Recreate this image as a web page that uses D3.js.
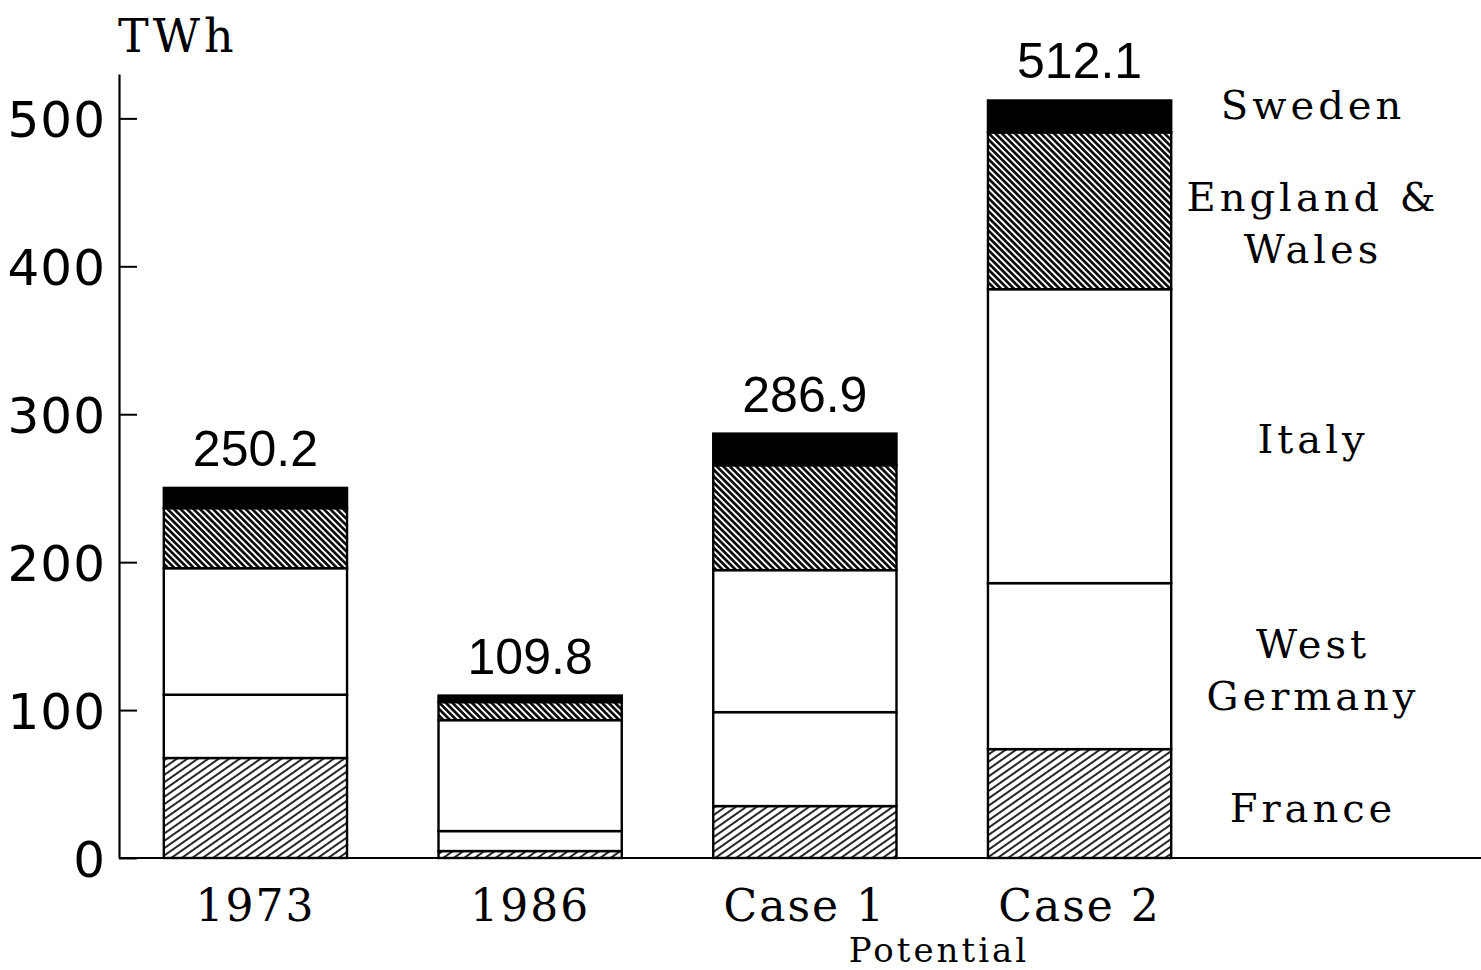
<!DOCTYPE html>
<html>
<head>
<meta charset="utf-8">
<script src="https://cdn.jsdelivr.net/npm/d3@7"></script>
<style>
  body { margin: 0; background: #fff; }
  svg { display: block; }
</style>
</head>
<body>
<div class="graph"></div>
<script>
// Data (TWh)
const groups = ['1973', '1986', 'Case 1', 'Case 2'];
const countries = ['France', 'West Germany', 'Italy', 'England & Wales', 'Sweden'];
const france = [67.6, 4.7, 35.1, 73.6];
const westGermany = [42.8, 13.5, 63.5, 112.2];
const italy = [85.5, 75.0, 96.0, 198.7];
const englandWales = [40.6, 12.2, 70.9, 106.0];
const sweden = [13.7, 4.4, 21.4, 21.6];
const totals = [250.2, 109.8, 286.9, 512.1];
const yTicks = [0, 100, 200, 300, 400, 500];

// Right hand labels (some on two lines) and the TWh level they are centred on
const countryLabels = [['France'], ['West', 'Germany'], ['Italy'], ['England &', 'Wales'], ['Sweden']];
const labelLevels = [34, 127, 283, 429, 509];

document.addEventListener('DOMContentLoaded', function () {
  const width = 1481;
  const height = 970;

  const svg = d3.select('.graph')
    .append('svg')
    .attr('width', width)
    .attr('height', height);

  // Build rows for the stack
  const series = [france, westGermany, italy, englandWales, sweden];
  const rows = groups.map((g, i) => {
    const row = { group: g };
    countries.forEach((c, j) => { row[c] = series[j][i]; });
    return row;
  });
  const stacked = d3.stack().keys(countries)(rows);

  // Scales
  const x = d3.scaleBand()
    .domain(groups)
    .range([118, 1217])
    .paddingInner(0.333)
    .paddingOuter(0.1667);

  const y = d3.scaleLinear()
    .domain([0, 530])
    .range([858, 74]);

  // Patterns
  const defs = svg.append('defs');

  const fr = defs.append('pattern')
    .attr('id', 'hatch-france')
    .attr('patternUnits', 'userSpaceOnUse')
    .attr('width', 6).attr('height', 6)
    .attr('patternTransform', 'rotate(-35)');
  fr.append('rect').attr('width', 6).attr('height', 6).attr('fill', '#fff');
  fr.append('line').attr('x1', 0).attr('x2', 6).attr('y1', 3).attr('y2', 3)
    .attr('stroke', '#000').attr('stroke-width', 1.7);

  const ew = defs.append('pattern')
    .attr('id', 'hatch-england')
    .attr('patternUnits', 'userSpaceOnUse')
    .attr('width', 4.6).attr('height', 4.6)
    .attr('patternTransform', 'rotate(45)');
  ew.append('rect').attr('width', 4.6).attr('height', 4.6).attr('fill', '#fff');
  ew.append('line').attr('x1', 0).attr('x2', 4.6).attr('y1', 2.3).attr('y2', 2.3)
    .attr('stroke', '#000').attr('stroke-width', 2.6);

  const fills = {
    'France': 'url(#hatch-france)',
    'West Germany': '#fff',
    'Italy': '#fff',
    'England & Wales': 'url(#hatch-england)',
    'Sweden': '#000'
  };

  // Bars
  svg.append('g')
    .selectAll('g')
    .data(stacked)
    .enter()
    .append('g')
    .attr('class', 'layer')
    .selectAll('rect')
    .data(d => d.map(v => ({ key: d.key, v: v })))
    .enter()
    .append('rect')
    .attr('x', d => x(d.v.data.group))
    .attr('y', d => y(d.v[1]))
    .attr('width', x.bandwidth())
    .attr('height', d => y(d.v[0]) - y(d.v[1]))
    .attr('fill', d => fills[d.key])
    .attr('stroke', '#000')
    .attr('stroke-width', 2.4);

  // Totals above the bars
  svg.append('g')
    .selectAll('text')
    .data(groups)
    .enter()
    .append('text')
    .attr('x', d => x(d) + x.bandwidth() / 2)
    .attr('y', (d, i) => y(totals[i]) - 22)
    .attr('text-anchor', 'middle')
    .attr('font-family', 'Liberation Sans, Arial, sans-serif')
    .attr('font-size', '50px')
    .text((d, i) => totals[i].toFixed(1));

  // Y axis, ticks pointing inward
  const yAxis = svg.append('g')
    .attr('transform', 'translate(119,0)')
    .call(d3.axisLeft(y).tickValues(yTicks).tickSizeInner(-18).tickSizeOuter(0).tickPadding(13));
  yAxis.select('.domain').attr('stroke-width', 2.2);
  yAxis.selectAll('.tick line').attr('stroke-width', 2);
  yAxis.selectAll('.tick text')
    .attr('font-family', 'DejaVu Sans, sans-serif')
    .attr('font-size', '50px')
    .attr('letter-spacing', '1px')
    .attr('dy', '0.36em')
    .attr('fill', '#000');

  // Baseline running to the right edge
  svg.append('line')
    .attr('x1', 119).attr('x2', width)
    .attr('y1', y(0)).attr('y2', y(0))
    .attr('stroke', '#000').attr('stroke-width', 2.2);

  // X labels
  const xAxis = svg.append('g')
    .attr('transform', `translate(0,${y(0)})`)
    .call(d3.axisBottom(x).tickSize(0).tickPadding(32));
  xAxis.select('.domain').remove();
  xAxis.selectAll('.tick text')
    .attr('font-family', 'DejaVu Serif, serif')
    .attr('font-size', '44px')
    .attr('letter-spacing', '2px')
    .attr('fill', '#000');

  svg.append('text')
    .attr('x', 939).attr('y', 962)
    .attr('text-anchor', 'middle')
    .attr('font-family', 'DejaVu Serif, serif')
    .attr('font-size', '34px')
    .attr('letter-spacing', '3px')
    .text('Potential');

  // Unit label
  svg.append('text')
    .attr('x', 118).attr('y', 52)
    .attr('font-family', 'DejaVu Serif, serif')
    .attr('font-size', '46px')
    .attr('letter-spacing', '4px')
    .text('TWh');

  // Country labels to the right of the last bar
  const labels = svg.append('g')
    .selectAll('text')
    .data(countryLabels)
    .enter()
    .append('text')
    .attr('text-anchor', 'middle')
    .attr('font-family', 'DejaVu Serif, serif')
    .attr('font-size', '40px')
    .attr('letter-spacing', '4px')
    .attr('x', 1313)
    .attr('y', (d, i) => y(labelLevels[i]));

  labels.each(function (lines) {
    const t = d3.select(this);
    lines.forEach((line, k) => {
      t.append('tspan')
        .attr('x', 1313)
        .attr('dy', k === 0 ? (0.35 - (lines.length - 1) * 0.65) + 'em' : '1.3em')
        .text(line);
    });
  });
});
</script>
</body>
</html>
